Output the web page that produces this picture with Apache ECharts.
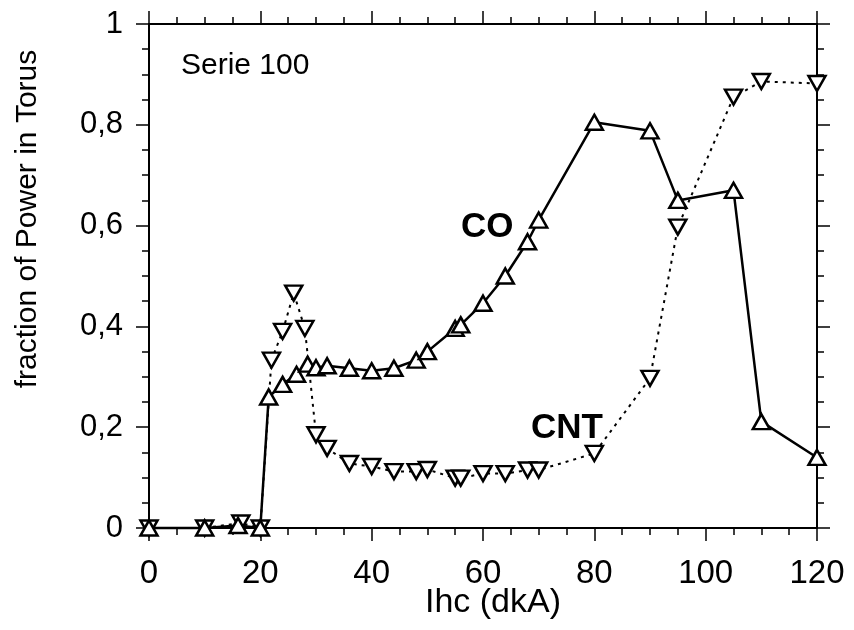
<!DOCTYPE html>
<html>
<head>
<meta charset="utf-8">
<script src="https://cdn.jsdelivr.net/npm/echarts@6/dist/echarts.min.js"></script>
<style>
  html, body { margin: 0; padding: 0; background: #fff; }
  #chart { width: 854px; height: 630px; }
</style>
</head>
<body>
<div id="chart"></div>
<script>
// CO (up triangles, solid) and CNT (down triangles, dotted)
var coX = [0, 10, 16, 20, 21.5, 24, 26.5, 28.5, 30, 32, 36, 40, 44, 48, 50, 55, 56, 60, 64, 68, 70, 80, 90, 95, 105, 110, 120];
var coY = [0, 0, 0.005, 0, 0.26, 0.285, 0.305, 0.325, 0.318, 0.322, 0.317, 0.312, 0.317, 0.333, 0.35, 0.396, 0.403, 0.446, 0.5, 0.568, 0.611, 0.805, 0.788, 0.65, 0.67, 0.211, 0.14];
var cntX = [0, 10, 16.5, 20, 22, 24, 26, 28, 30, 32, 36, 40, 44, 48, 50, 55, 56, 60, 64, 68, 70, 80, 90, 95, 105, 110, 120];
var cntY = [0, 0, 0.01, 0, 0.333, 0.39, 0.466, 0.396, 0.185, 0.158, 0.128, 0.122, 0.112, 0.112, 0.116, 0.099, 0.099, 0.108, 0.108, 0.115, 0.115, 0.148, 0.297, 0.597, 0.855, 0.886, 0.882];

function pairs(xs, ys) {
	var out = [];
	for (var i = 0; i < xs.length; i++) out.push([xs[i], ys[i]]);
	return out;
}

var font = 'Liberation Sans, Arial, sans-serif';
var chart = echarts.init(document.getElementById('chart'));

var xBase = {
	type: 'value', min: 0, max: 120, interval: 20,
	axisLine: { show: true, onZero: false, lineStyle: { color: '#000', width: 2 } },
	axisTick: { show: true, inside: false, length: 13, lineStyle: { color: '#000', width: 1.5 } },
	minorTick: { show: true, splitNumber: 4, length: 7, lineStyle: { color: '#000', width: 1.5 } },
	splitLine: { show: false }
};
var yBase = {
	type: 'value', min: 0, max: 1, interval: 0.2,
	axisLine: { show: true, onZero: false, lineStyle: { color: '#000', width: 2 } },
	axisTick: { show: true, inside: false, length: 13, lineStyle: { color: '#000', width: 1.5 } },
	minorTick: { show: true, splitNumber: 4, length: 7, lineStyle: { color: '#000', width: 1.5 } },
	splitLine: { show: false }
};

var option = {
	animation: false,
	backgroundColor: '#fff',
	grid: { left: 149, right: 37, top: 24, bottom: 102 },
	xAxis: [
		Object.assign({}, xBase, {
			position: 'bottom',
			axisLabel: { color: '#000', fontSize: 33, fontFamily: font, margin: 29 }
		}),
		Object.assign({}, xBase, { position: 'top', axisLabel: { show: false } })
	],
	yAxis: [
		Object.assign({}, yBase, {
			position: 'left',
			axisLabel: {
				color: '#000', fontSize: 31, fontFamily: font, margin: 26,
				formatter: function (v) { return String(Math.round(v * 10) / 10).replace('.', ','); }
			}
		}),
		Object.assign({}, yBase, { position: 'right', axisLabel: { show: false } })
	],
	series: [
		{
			name: 'CNT', type: 'line', data: pairs(cntX, cntY),
			symbol: 'triangle', symbolRotate: 180, symbolSize: [17, 15], showAllSymbol: true,
			clip: false,
			lineStyle: { color: '#000', width: 2, type: [3, 5] },
			itemStyle: { color: '#fff', borderColor: '#000', borderWidth: 2.5 }
		},
		{
			name: 'CO', type: 'line', data: pairs(coX, coY),
			symbol: 'triangle', symbolSize: [17, 15], showAllSymbol: true,
			clip: false,
			lineStyle: { color: '#000', width: 2.5 },
			itemStyle: { color: '#fff', borderColor: '#000', borderWidth: 2.5 }
		}
	],
	graphic: [
		{ type: 'text', x: 28, y: 219, rotation: Math.PI / 2,
		  style: { text: 'fraction of Power in Torus', fill: '#000', font: '30px ' + font, align: 'center', verticalAlign: 'middle' } },
		{ type: 'text', x: 493, y: 603,
		  style: { text: 'Ihc (dkA)', fill: '#000', font: '34px ' + font, align: 'center', verticalAlign: 'middle' } },
		{ type: 'text', x: 181, y: 66,
		  style: { text: 'Serie 100', fill: '#000', font: '30px ' + font, align: 'left', verticalAlign: 'middle' } },
		{ type: 'text', x: 461, y: 227,
		  style: { text: 'CO', fill: '#000', font: 'bold 35px ' + font, align: 'left', verticalAlign: 'middle' } },
		{ type: 'text', x: 531, y: 428,
		  style: { text: 'CNT', fill: '#000', font: 'bold 35px ' + font, align: 'left', verticalAlign: 'middle' } }
	]
};
chart.setOption(option);
</script>
</body>
</html>
